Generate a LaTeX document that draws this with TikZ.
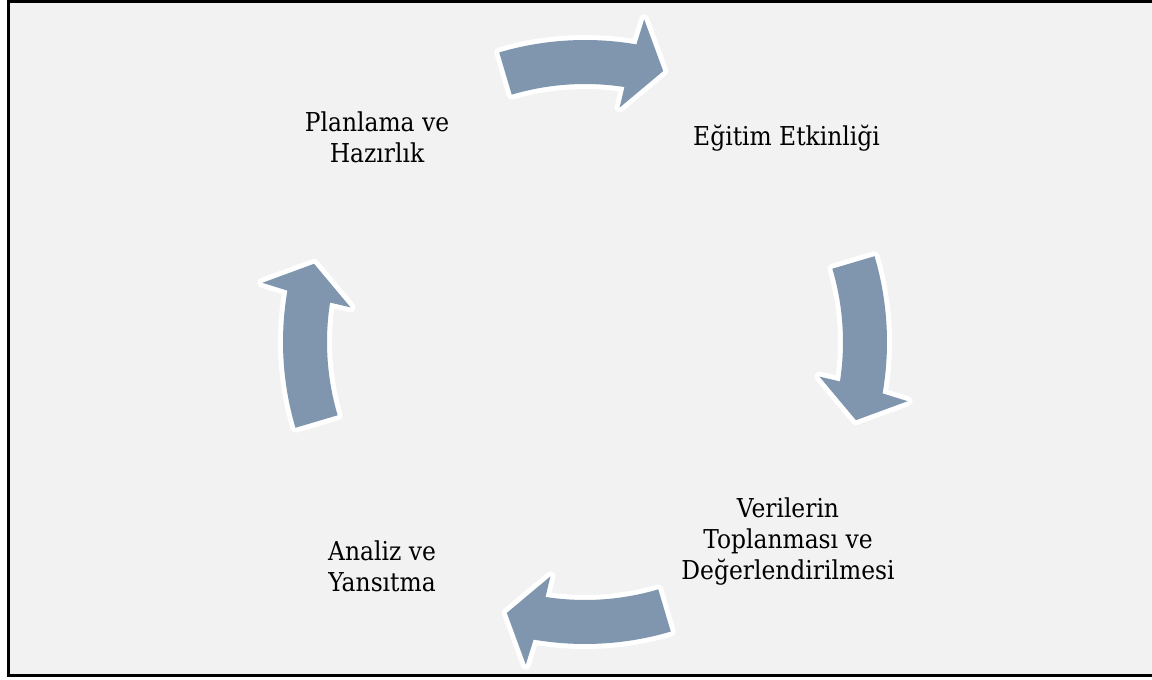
\documentclass[tikz,border=0pt]{standalone}
\usepackage{fontspec}
\setmainfont{Liberation Serif}
\newfontfamily\lblfont{DejaVu Serif Condensed}
\definecolor{bggray}{RGB}{242,242,242}
\definecolor{arrowblue}{RGB}{127,150,174}
\newcommand\cycarrow[1]{%
\path[shift={(585pt,338pt)}, fill=arrowblue, preaction={draw=white,line width=10pt,line join=round}]
 (#1+16.5:302pt) arc[start angle=#1+16.5, end angle=#1-9.8, radius=302pt]
 -- (#1-10.4:328pt) -- (#1-16.1:282pt) -- (#1-8.4:237pt) -- (#1-8.8:258pt)
 arc[start angle=#1-8.8, end angle=#1+16.5, radius=258pt] -- cycle;}
\tikzset{lbl/.style={align=center, inner sep=0pt, font=\lblfont\fontsize{26}{31}\selectfont}}
\begin{document}
\begin{tikzpicture}[x=1pt,y=1pt]
\useasboundingbox (0,0) rectangle (1152,680);
\clip (0,0) rectangle (1152,680);
\fill[white] (0,0) rectangle (1152,680);
\fill[bggray] (8,4) rectangle (1160,678);
\cycarrow{90}
\cycarrow{0}
\cycarrow{-90}
\cycarrow{180}
\draw[line width=3pt] (1160,4) -- (8,4) -- (8,678) -- (1160,678);
\node[lbl] (plan) at (377,543) {Planlama ve\\Hazırlık};
\node[lbl] (egitim) at (786.5,542) {Eğitim Etkinliği};
\node[lbl] (veri) at (788,138) {Verilerin\\Toplanması ve\\Değerlendirilmesi};
\node[lbl] (analiz) at (382,113.5) {Analiz ve\\Yansıtma};
\end{tikzpicture}
\end{document}
